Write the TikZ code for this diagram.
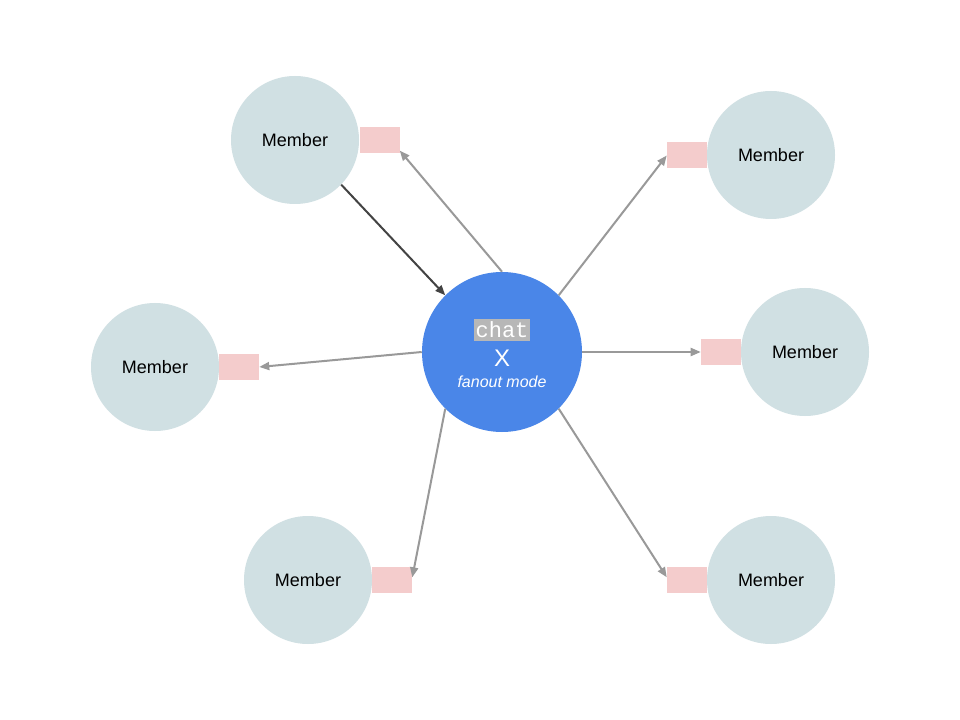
\documentclass[tikz,border=0pt]{standalone}
\usepackage{fontspec}
\setmainfont{Liberation Sans}
\newfontfamily\monof{Liberation Mono}
\usetikzlibrary{arrows.meta}
\definecolor{hubblue}{HTML}{4A86E8}
\definecolor{memfill}{HTML}{D0E0E3}
\definecolor{boxfill}{HTML}{F4CCCC}
\definecolor{arrgray}{HTML}{999999}
\definecolor{arrdark}{HTML}{434343}
\definecolor{chatbg}{HTML}{B7B7B7}
\begin{document}
\begin{tikzpicture}[x=0.75pt,y=-0.75pt,
  member/.style={circle,fill=memfill,minimum size=96pt,inner sep=0pt,font=\fontsize{13.5pt}{16pt}\selectfont},
  tag/.style={rectangle,fill=boxfill,minimum width=30pt,minimum height=19.5pt,inner sep=0pt},
  hubnode/.style={circle,fill=hubblue,minimum size=120pt,inner sep=0pt},
  link/.style={draw=arrgray,line width=1.5pt,-{Triangle[length=7.5pt,width=6pt]}},
  darklink/.style={draw=arrdark,line width=1.5pt,-{Triangle[length=7.5pt,width=6pt]}}]
\useasboundingbox (0,0) rectangle (960,720);
\fill[white] (0,0) rectangle (960,720);
% hub
\node[hubnode] (hub) at (502,352) {};
\node[fill=chatbg,text=white,inner xsep=1.5pt,inner ysep=2pt,font=\monof\fontsize{16.5pt}{18pt}\selectfont] (chat) at (502,330) {chat};
\node[text=white,inner sep=0pt,font=\fontsize{18pt}{20pt}\selectfont] (x) at (502,358) {X};
\node[text=white,inner sep=0pt,font=\fontsize{12pt}{14pt}\selectfont\itshape] (fan) at (502,382) {fanout mode};
% members
\node[member] (m1) at (295,140) {Member};
\node[tag] (t1) at (379.5,140) {};
\node[member] (m2) at (771,155) {Member};
\node[tag] (t2) at (687,155.5) {};
\node[member] (m3) at (155,367) {Member};
\node[tag] (t3) at (239,367) {};
\node[member] (m4) at (805,352) {Member};
\node[tag] (t4) at (721,352) {};
\node[member] (m5) at (308,580) {Member};
\node[tag] (t5) at (392,580) {};
\node[member] (m6) at (771,580) {Member};
\node[tag] (t6) at (687,580) {};
% connectors
\draw[darklink] (m1.-44) -- (hub.135);
\draw[link] (hub.north) -- ([yshift=2pt]t1.south east);
\draw[link] (hub.45) -- (t2.west);
\draw[link] (hub.west) -- (t3.east);
\draw[link] (hub.east) -- (t4.west);
\draw[link] (hub.225) -- ([yshift=2pt]t5.east);
\draw[link] (hub.-45) -- ([yshift=2pt]t6.west);
\end{tikzpicture}
\end{document}
